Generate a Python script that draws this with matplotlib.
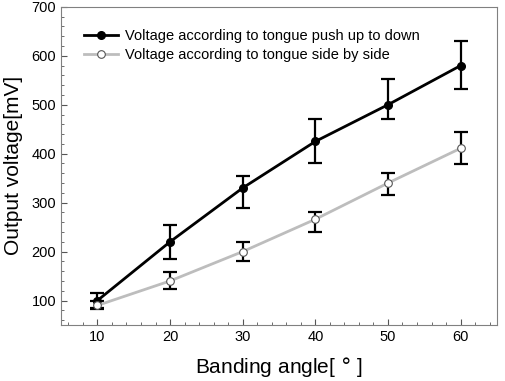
import numpy as np
import matplotlib.pyplot as plt
from matplotlib.ticker import MultipleLocator

plt.rcParams['font.family'] = ['Liberation Sans', 'DejaVu Sans']

# Data
angle = [10, 20, 30, 40, 50, 60]
push = [100, 220, 330, 425, 500, 580]
push_lo = [16, 35, 40, 45, 30, 48]
push_hi = [16, 35, 25, 45, 53, 50]
side = [90, 140, 200, 266, 340, 411]
side_lo = [8, 17, 20, 26, 25, 33]
side_hi = [8, 18, 20, 14, 20, 33]

fig = plt.figure(figsize=(5.05, 3.81), dpi=100)
ax = fig.add_axes([0.121, 0.147, 0.863, 0.835])

# error bars first, then lines with markers on top
ax.errorbar(angle, push, yerr=[push_lo, push_hi], fmt='none',
            ecolor='black', elinewidth=1.6, capsize=5, capthick=1.6, zorder=2)
ax.errorbar(angle, side, yerr=[side_lo, side_hi], fmt='none',
            ecolor='black', elinewidth=1.6, capsize=5, capthick=1.6, zorder=2)
ax.plot(angle, push, color='black', lw=2, marker='o', ms=5.5,
        mfc='black', mec='black',
        label='Voltage according to tongue push up to down', zorder=3)
ax.plot(angle, side, color='#bdbdbd', lw=2, marker='o', ms=5.5,
        mfc='white', mec='#555555', mew=0.8,
        label='Voltage according to tongue side by side', zorder=3)

ax.set_xlim(5, 65)
ax.set_ylim(50, 700)
ax.set_xticks([10, 20, 30, 40, 50, 60])
ax.set_yticks([100, 200, 300, 400, 500, 600, 700])
ax.xaxis.set_minor_locator(MultipleLocator(2))
ax.yaxis.set_minor_locator(MultipleLocator(20))
ax.tick_params(which='both', direction='in', top=False, right=False,
               color='#555555', labelsize=10.5)
ax.tick_params(which='major', length=4)
ax.tick_params(which='minor', length=2.5)
for s in ax.spines.values():
    s.set_color('#808080')

ax.set_xlabel('Banding angle[ $\\degree$ ]', fontsize=15, labelpad=8)
ax.set_ylabel('Output voltage[mV]', fontsize=15, labelpad=6)

ax.legend(loc='upper left', frameon=False, fontsize=10.5, handlelength=2.3,
          handletextpad=0.5, labelspacing=0.35, borderaxespad=0.6,
          bbox_to_anchor=(0.02, 0.975))

plt.savefig('out.png', dpi=100)
